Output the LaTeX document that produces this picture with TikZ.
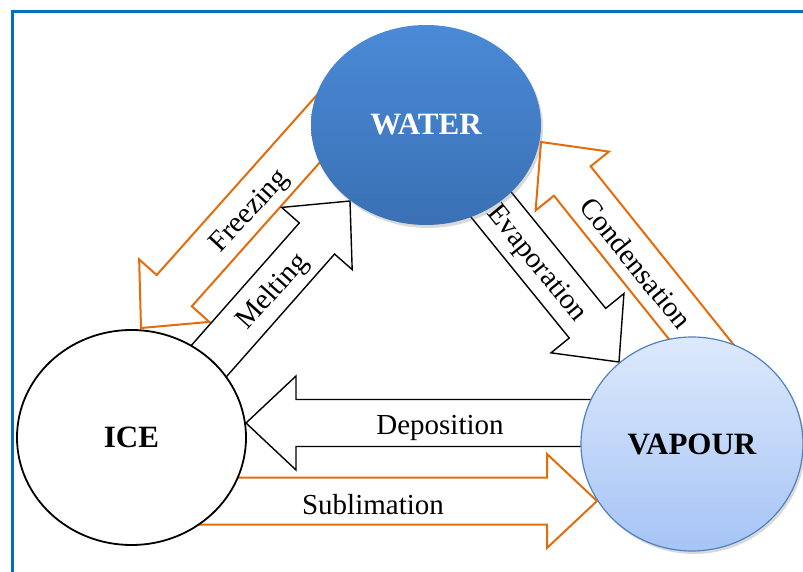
\documentclass[tikz,border=0pt]{standalone}
\usepackage{fontspec}
\setmainfont{Liberation Serif}
\usetikzlibrary{calc,shapes.geometric,shadows}
\definecolor{frameblue}{HTML}{0070C0}
\definecolor{arrorange}{HTML}{E46C0A}
\definecolor{watertop}{HTML}{4A8AD6}
\definecolor{waterbot}{HTML}{3A70B4}
\definecolor{vaptop}{HTML}{DDE9FC}
\definecolor{vapbot}{HTML}{A6C4F6}
\definecolor{vapline}{HTML}{4F81BD}
% block arrow: style, tail, tip
\newcommand{\blockarr}[3]{%
  \coordinate (#2-b) at ($(#3)!50pt!(#2)$);
  \draw[#1] ($(#2)!23.5pt!90:(#3)$) -- ($(#2-b)!23.5pt!90:(#3)$)
    -- ($(#2-b)!47pt!90:(#3)$) -- (#3) -- ($(#2-b)!47pt!-90:(#3)$)
    -- ($(#2-b)!23.5pt!-90:(#3)$) -- ($(#2)!23.5pt!-90:(#3)$) -- cycle;}

\begin{document}
\begin{tikzpicture}[x=1pt,y=-1pt,
    blk/.style={draw=black,fill=white,line width=1.4pt},
    org/.style={draw=arrorange,fill=white,line width=2pt},
    state/.style={ellipse,inner sep=0pt,font=\fontsize{31}{31}\selectfont\bfseries},
    lbl/.style={font=\fontsize{29}{29}\selectfont,inner sep=0pt}]
  \clip (0,0) rectangle (803,572);
  \draw[frameblue,line width=3pt] (12,12) rectangle (840,620);
  % arrow ends
  \coordinate (frz) at (360,82);  \coordinate (frzp) at (141,328);
  \coordinate (mlt) at (171,404); \coordinate (mltp) at (350,201);
  \coordinate (evp) at (450,154); \coordinate (evpp) at (619,362);
  \coordinate (cnd) at (727,374); \coordinate (cndp) at (541,142);
  \coordinate (dep) at (650,423); \coordinate (depp) at (246,423);
  \coordinate (sub) at (100,501); \coordinate (subp) at (597,501);
  \blockarr{org}{frz}{frzp}
  \blockarr{blk}{mlt}{mltp}
  \blockarr{blk}{evp}{evpp}
  \blockarr{org}{cnd}{cndp}
  \blockarr{blk}{dep}{depp}
  \blockarr{org}{sub}{subp}
  % states
  \node[state,minimum width=230pt,minimum height=200pt,top color=watertop,
    bottom color=waterbot,text=white,
    drop shadow={opacity=0.3,shadow xshift=2pt,shadow yshift=-3pt}] (water) at (426,125) {WATER};
  \node[state,draw=black,line width=1.8pt,fill=white,minimum width=229pt,
    minimum height=215pt] (ice) at (131.5,437.5) {ICE};
  \node[state,draw=vapline,line width=1.2pt,top color=vaptop,bottom color=vapbot,
    minimum width=222pt,minimum height=214pt,
    drop shadow={opacity=0.3,shadow xshift=2pt,shadow yshift=-3pt}] (vapour) at (692,444) {VAPOUR};
  % labels
  \node[lbl,rotate=47] (lfrz) at (250,212) {Freezing};
  \node[lbl,rotate=48] (lmlt) at (273,292) {Melting};
  \node[lbl,rotate=-51] (levp) at (536,264) {Evaporation};
  \node[lbl,rotate=-51] (lcnd) at (636,263) {Condensation};
  \node[lbl] (ldep) at (440,428) {Deposition};
  \node[lbl] (lsub) at (373,505) {Sublimation};
\end{tikzpicture}
\end{document}
